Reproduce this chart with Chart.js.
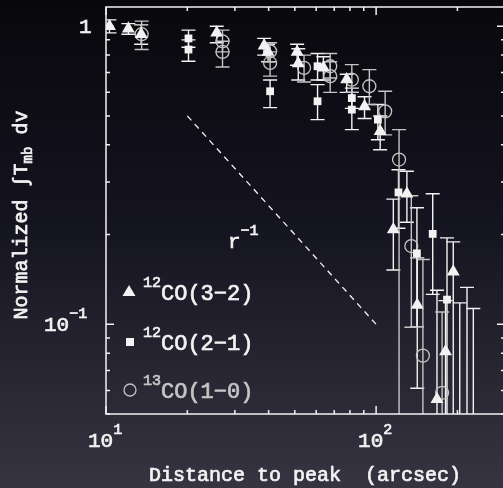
<!DOCTYPE html>
<html>
<head>
<meta charset="utf-8">
<script src="https://cdn.jsdelivr.net/npm/chart.js@4.4.0/dist/chart.umd.min.js"></script>
<style>
html, body { margin: 0; padding: 0; overflow: hidden; background: #1a1926; }
canvas { display: block; }
</style>
</head>
<body>
<canvas id="chart" width="506" height="488"></canvas>
<script>
// 12CO(3-2) - triangles
const triX  = [10.3, 12.1, 13.5, 25.7, 38.5, 39.8, 51.0, 51.5, 63.8, 77.8, 90.6, 103.5, 115.8, 130, 142, 168, 180.7, 193, 204, 217, 229];
const triY  = [1.0, 0.98, 0.94, 0.95, 0.86, 0.82, 0.82, 0.75, 0.725, 0.662, 0.538, 0.444, 0.208, 0.274, 0.116, 0.056, 0.081, 0.150, 0.03, 0.03, 0.03];
const triLo = [0.95, 0.94, 0.87, 0.88, 0.80, 0.76, 0.74, 0.66, 0.66, 0.60, 0.49, 0.385, 0.152, 0.22, 0.061, 0.01, 0.01, 0.01, 0.01, 0.01, 0.01];
const triHi = [1.05, 1.02, 1.01, 1.00, 0.91, 0.87, 0.87, 0.84, 0.79, 0.69, 0.58, 0.50, 0.263, 0.326, 0.167, 0.13, 0.12, 0.189, 0.118, 0.133, 0.113];

// 12CO(2-1) - squares
const sqX  = [20.2, 20.2, 40.5, 60.7, 60.7, 81.3, 81.3, 101.5, 121, 141.6, 162, 183];
const sqY  = [0.91, 0.835, 0.605, 0.734, 0.56, 0.574, 0.525, 0.486, 0.277, 0.173, 0.201, 0.121];
const sqLo = [0.85, 0.763, 0.533, 0.66, 0.486, 0.53, 0.45, 0.416, 0.21, 0.098, 0.126, 0.01];
const sqHi = [0.97, 0.90, 0.66, 0.81, 0.637, 0.62, 0.60, 0.546, 0.33, 0.246, 0.274, 0.195];

// 13CO(1-0) - circles
const ciX  = [13.55, 27.0, 27.0, 40.5, 40.5, 54.1, 67.6, 67.6, 81.3, 94.4, 108, 121.6, 135, 149, 175.5];
const ciY  = [0.94, 0.89, 0.82, 0.824, 0.753, 0.725, 0.734, 0.68, 0.662, 0.629, 0.518, 0.357, 0.183, 0.0785, 0.0589];
const ciLo = [0.835, 0.82, 0.73, 0.76, 0.68, 0.65, 0.67, 0.60, 0.60, 0.546, 0.432, 0.01, 0.0977, 0.01, 0.01];
const ciHi = [1.04, 0.97, 0.89, 0.88, 0.82, 0.80, 0.81, 0.76, 0.743, 0.715, 0.605, 0.45, 0.27, 0.165, 0.11];

// r^-1 guide line
const slopeX = [20, 100];
const slopeY = [0.5, 0.1];

// ticks
const xMajor = [10, 100];
const xMinor = [20, 30, 40, 50, 60, 70, 80, 90, 200, 300];
const yMajor = [0.1, 1];
const yMinor = [0.05, 0.06, 0.07, 0.08, 0.09, 0.2, 0.3, 0.4, 0.5, 0.6, 0.7, 0.8, 0.9];

const MONO = '"Liberation Mono", "DejaVu Sans Mono", monospace';
const WHITE = '#f2f2f2';
const GREY = '#c4c4c4';

function pts(xs, ys) {
    return xs.map((x, i) => ({x: x, y: ys[i]}));
}

// draws text with a raised (or lowered) smaller part, returns new x
function piece(ctx, txt, x, y, size, dy) {
    ctx.font = size + 'px ' + MONO;
    ctx.lineWidth = 0.7;
    ctx.strokeStyle = ctx.fillStyle;
    ctx.fillText(txt, x, y + dy);
    ctx.strokeText(txt, x, y + dy);
    return x + ctx.measureText(txt).width;
}

const errorBars = [
    {xs: triX, lo: triLo, hi: triHi, color: WHITE},
    {xs: sqX, lo: sqLo, hi: sqHi, color: WHITE},
    {xs: ciX, lo: ciLo, hi: ciHi, color: GREY}
];

const framePlugin = {
    id: 'frame',
    beforeDraw(chart) {
        const ctx = chart.ctx;
        const g = ctx.createLinearGradient(0, 0, 0, chart.height);
        g.addColorStop(0, '#08080c');
        g.addColorStop(0.45, '#141320');
        g.addColorStop(1, '#363441');
        ctx.save();
        ctx.fillStyle = g;
        ctx.fillRect(0, 0, chart.width, chart.height);
        ctx.restore();
    },
    beforeDatasetsDraw(chart) {
        const {ctx, chartArea: a, scales: {x, y}} = chart;
        ctx.save();
        ctx.beginPath();
        ctx.rect(a.left, a.top, a.right - a.left, a.bottom - a.top);
        ctx.clip();
        ctx.lineWidth = 1.4;
        errorBars.forEach(s => {
            ctx.strokeStyle = s.color;
            s.xs.forEach((xv, i) => {
                const px = x.getPixelForValue(xv);
                const top = y.getPixelForValue(s.hi[i]);
                const bot = y.getPixelForValue(s.lo[i]);
                ctx.beginPath();
                ctx.moveTo(px, top); ctx.lineTo(px, bot);
                ctx.moveTo(px - 7, top); ctx.lineTo(px + 7, top);
                ctx.moveTo(px - 7, bot); ctx.lineTo(px + 7, bot);
                ctx.stroke();
            });
        });
        ctx.restore();
    },
    afterDatasetsDraw(chart) {
        const {ctx, chartArea: a, scales: {x, y}} = chart;
        ctx.save();
        ctx.strokeStyle = WHITE;
        ctx.lineWidth = 1.5;
        ctx.strokeRect(a.left, a.top, a.right - a.left, a.bottom - a.top);

        ctx.beginPath();
        const tick = (vals, len) => {
            vals.forEach(v => {
                const px = x.getPixelForValue(v);
                ctx.moveTo(px, a.bottom); ctx.lineTo(px, a.bottom - len);
                ctx.moveTo(px, a.top); ctx.lineTo(px, a.top + len);
            });
        };
        const ytick = (vals, len) => {
            vals.forEach(v => {
                const py = y.getPixelForValue(v);
                ctx.moveTo(a.left, py); ctx.lineTo(a.left + len, py);
                ctx.moveTo(a.right, py); ctx.lineTo(a.right - len, py);
            });
        };
        tick(xMajor, 8); tick(xMinor, 4);
        ytick(yMajor, 8); ytick(yMinor, 4);
        ctx.stroke();

        // tick labels
        ctx.fillStyle = WHITE;
        ctx.textBaseline = 'alphabetic';
        ctx.textAlign = 'left';
        let px;
        px = x.getPixelForValue(10);
        piece(ctx, '1', piece(ctx, '10', px - 18, 447, 21, 0), 447, 15, -13);
        px = x.getPixelForValue(100);
        piece(ctx, '2', piece(ctx, '10', px - 18, 447, 21, 0), 447, 15, -13);
        let py = y.getPixelForValue(1);
        piece(ctx, '1', 79, py + 7, 21, 0);
        py = y.getPixelForValue(0.1);
        piece(ctx, '\u22121', piece(ctx, '10', 44, py + 7, 21, 0), py + 7, 15, -13);

        // axis titles
        ctx.textAlign = 'center';
        piece(ctx, 'Distance to peak  (arcsec)', 305, 481, 20, 0);

        ctx.save();
        ctx.translate(27, 215);
        ctx.rotate(-Math.PI / 2);
        ctx.textAlign = 'left';
        ctx.font = '20px ' + MONO;
        const w1 = ctx.measureText('Normalized \u222BT').width;
        ctx.font = '14px ' + MONO;
        const w2 = ctx.measureText('mb').width;
        ctx.font = '20px ' + MONO;
        const w3 = ctx.measureText(' dv').width;
        let tx = -(w1 + w2 + w3) / 2;
        tx = piece(ctx, 'Normalized \u222BT', tx, 0, 20, 0);
        tx = piece(ctx, 'mb', tx, 0, 14, 5);
        piece(ctx, ' dv', tx, 0, 20, 0);
        ctx.restore();

        // r^-1 label
        ctx.textAlign = 'left';
        piece(ctx, '\u22121', piece(ctx, 'r', 228, 248, 21, 0), 248, 15, -13);

        // legend
        const legendY = [292, 342, 390];
        const labels = [['12', 'CO(3\u22122)'], ['12', 'CO(2\u22121)'], ['13', 'CO(1\u22120)']];
        // triangle
        ctx.fillStyle = WHITE;
        ctx.beginPath();
        ctx.moveTo(129, legendY[0] - 7);
        ctx.lineTo(135.5, legendY[0] + 4);
        ctx.lineTo(122.5, legendY[0] + 4);
        ctx.closePath();
        ctx.fill();
        // square
        ctx.fillRect(126, legendY[1] - 4, 8, 8);
        // circle
        ctx.strokeStyle = GREY;
        ctx.lineWidth = 1.3;
        ctx.beginPath();
        ctx.arc(130, legendY[2], 6, 0, Math.PI * 2);
        ctx.stroke();
        labels.forEach((l, i) => {
            ctx.fillStyle = i === 2 ? GREY : WHITE;
            const nx = piece(ctx, l[0], 143, legendY[i] + 8, 15, -13);
            piece(ctx, l[1], nx, legendY[i] + 8, 22, 0);
        });
        ctx.restore();
    }
};

new Chart(document.getElementById('chart'), {
    type: 'scatter',
    data: {
        datasets: [
            {
                label: 'slope',
                data: pts(slopeX, slopeY),
                showLine: true,
                borderColor: WHITE,
                borderWidth: 1.3,
                borderDash: [6, 5],
                pointRadius: 0
            },
            {
                label: '12CO(3-2)',
                data: pts(triX, triY),
                pointStyle: 'triangle',
                pointRadius: 7.5,
                backgroundColor: WHITE,
                borderColor: WHITE,
                borderWidth: 0
            },
            {
                label: '12CO(2-1)',
                data: pts(sqX, sqY),
                pointStyle: 'rect',
                pointRadius: 5.5,
                backgroundColor: WHITE,
                borderColor: WHITE,
                borderWidth: 0
            },
            {
                label: '13CO(1-0)',
                data: pts(ciX, ciY),
                pointStyle: 'circle',
                pointRadius: 6.5,
                backgroundColor: 'rgba(0,0,0,0)',
                borderColor: GREY,
                borderWidth: 1.3
            }
        ]
    },
    options: {
        responsive: false,
        animation: false,
        devicePixelRatio: 1,
        layout: {autoPadding: false, padding: {left: 106, top: 7, right: 1, bottom: 74}},
        plugins: {legend: {display: false}, tooltip: {enabled: false}},
        scales: {
            x: {type: 'logarithmic', min: 10, max: 300, display: false},
            y: {type: 'logarithmic', min: 0.05, max: 1.16, display: false}
        }
    },
    plugins: [framePlugin]
});
</script>
</body>
</html>
